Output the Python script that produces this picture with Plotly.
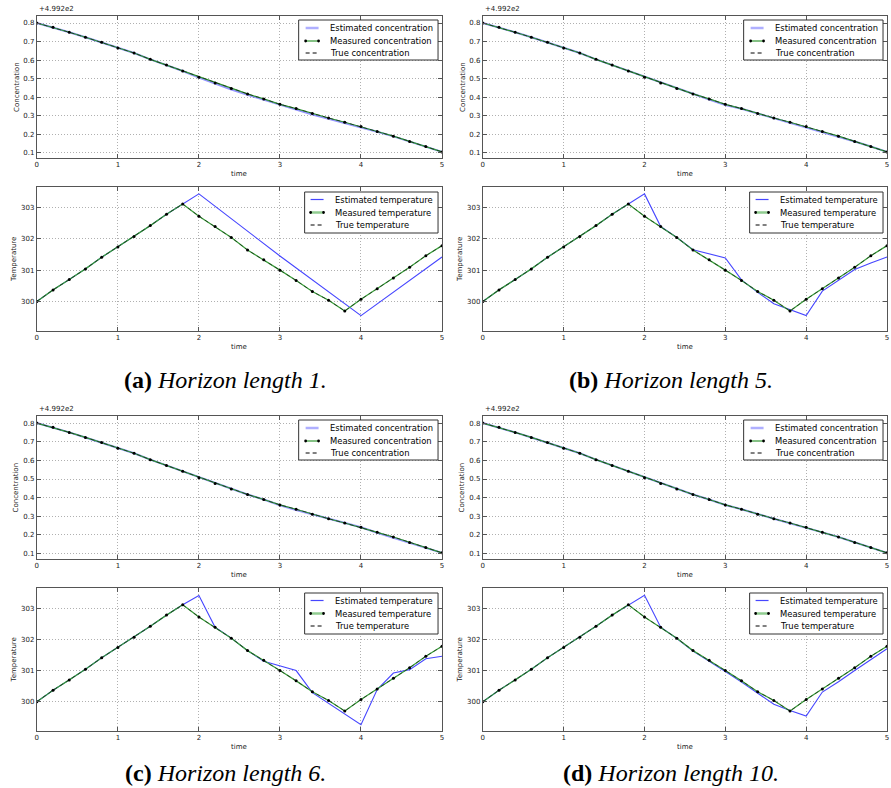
import plotly.graph_objects as go

W, H = 891, 788

# ---------------- data ----------------
time = [0.0, 0.2, 0.4, 0.6, 0.8, 1.0, 1.2, 1.4, 1.6, 1.8, 2.0, 2.2, 2.4,
        2.6, 2.8, 3.0, 3.2, 3.4, 3.6, 3.8, 4.0, 4.2, 4.4, 4.6, 4.8, 5.0]

conc_measured = [500.000, 499.977, 499.950, 499.923, 499.896, 499.865, 499.838,
                 499.804, 499.773, 499.741, 499.707, 499.676, 499.646, 499.617,
                 499.590, 499.561, 499.538, 499.511, 499.487, 499.464, 499.441,
                 499.414, 499.389, 499.360, 499.333, 499.304]
conc_true = [500.000, 499.977, 499.950, 499.923, 499.896, 499.865, 499.838,
             499.804, 499.773, 499.741, 499.707, 499.676, 499.646, 499.617,
             499.590, 499.561, 499.538, 499.511, 499.487, 499.464, 499.441,
             499.414, 499.389, 499.360, 499.333, 499.304]
conc_est_a = [500.000, 499.977, 499.950, 499.923, 499.896, 499.865, 499.838,
              499.804, 499.773, 499.741, 499.705, 499.671, 499.641, 499.612,
              499.585, 499.556, 499.532, 499.506, 499.483, 499.460, 499.439,
              499.413, 499.388, 499.359, 499.333, 499.304]
conc_est_b = [500.000, 499.977, 499.950, 499.923, 499.896, 499.865, 499.838,
              499.804, 499.773, 499.741, 499.707, 499.676, 499.646, 499.616,
              499.587, 499.557, 499.537, 499.511, 499.486, 499.461, 499.438,
              499.414, 499.389, 499.360, 499.333, 499.304]
conc_est_c = [500.000, 499.977, 499.950, 499.923, 499.896, 499.865, 499.838,
              499.804, 499.773, 499.741, 499.707, 499.676, 499.646, 499.617,
              499.590, 499.559, 499.534, 499.510, 499.487, 499.464, 499.441,
              499.412, 499.385, 499.359, 499.333, 499.304]
conc_est_d = [500.000, 499.977, 499.950, 499.923, 499.896, 499.865, 499.838,
              499.804, 499.773, 499.741, 499.707, 499.676, 499.646, 499.617,
              499.590, 499.561, 499.538, 499.511, 499.487, 499.463, 499.440,
              499.414, 499.389, 499.360, 499.333, 499.304]

temp_measured = [300.00, 300.37, 300.70, 301.04, 301.41, 301.74, 302.07, 302.42,
                 302.78, 303.11, 302.72, 302.39, 302.04, 301.64, 301.33, 301.00,
                 300.67, 300.32, 300.04, 299.70, 300.07, 300.41, 300.75, 301.09,
                 301.46, 301.78]
temp_true = [300.00, 300.37, 300.70, 301.04, 301.41, 301.74, 302.07, 302.42,
             302.78, 303.11, 302.72, 302.39, 302.04, 301.64, 301.33, 301.00,
             300.67, 300.32, 300.04, 299.70, 300.07, 300.41, 300.75, 301.09,
             301.46, 301.78]

temp_est_time_a = [0.0, 0.2, 0.4, 0.6, 0.8, 1.0, 1.2, 1.4, 1.6, 1.8, 2.0, 3.0, 4.0, 5.0]
temp_est_a = [300.00, 300.37, 300.70, 301.04, 301.41, 301.74, 302.07, 302.42,
              302.78, 303.11, 303.43, 301.45, 299.55, 301.42]
temp_est_time_b = [0.0, 0.2, 0.4, 0.6, 0.8, 1.0, 1.2, 1.4, 1.6, 1.8, 2.0, 2.2, 2.4,
                   2.6, 3.0, 3.2, 3.4, 3.6, 3.8, 4.0, 4.2, 4.4, 4.6, 4.8, 5.0]
temp_est_b = [300.00, 300.37, 300.70, 301.04, 301.41, 301.74, 302.07, 302.42,
              302.78, 303.11, 303.43, 302.39, 302.04, 301.65, 301.39, 300.69,
              300.29, 299.93, 299.75, 299.55, 300.33, 300.68, 301.02, 301.23, 301.42]
temp_est_time_c = [0.0, 0.2, 0.4, 0.6, 0.8, 1.0, 1.2, 1.4, 1.6, 1.8, 2.0, 2.2, 2.4,
                   2.6, 2.8, 3.2, 3.4, 4.0, 4.2, 4.4, 4.6, 4.8, 5.0]
temp_est_c = [300.00, 300.37, 300.70, 301.04, 301.41, 301.74, 302.07, 302.42,
              302.78, 303.11, 303.41, 302.39, 302.04, 301.64, 301.30, 301.00,
              300.29, 299.26, 300.39, 300.92, 301.03, 301.38, 301.46]
temp_est_time_d = [0.0, 0.2, 0.4, 0.6, 0.8, 1.0, 1.2, 1.4, 1.6, 1.8, 2.0, 2.2, 2.4,
                   2.6, 2.8, 3.0, 3.2, 3.4, 3.6, 3.8, 4.0, 4.2, 4.4, 4.6, 4.8, 5.0]
temp_est_d = [300.00, 300.37, 300.70, 301.04, 301.41, 301.74, 302.07, 302.42,
              302.78, 303.11, 303.42, 302.39, 302.03, 301.63, 301.31, 300.97,
              300.63, 300.28, 299.92, 299.72, 299.54, 300.31, 300.64, 301.00,
              301.35, 301.70]

panel_letters = ["a", "b", "c", "d"]
horizon_lengths = [1, 5, 6, 10]
conc_est = [conc_est_a, conc_est_b, conc_est_c, conc_est_d]
temp_est_times = [temp_est_time_a, temp_est_time_b, temp_est_time_c, temp_est_time_d]
temp_est = [temp_est_a, temp_est_b, temp_est_c, temp_est_d]

x_ticks = [0, 1, 2, 3, 4, 5]
conc_tickvals = [499.3, 499.4, 499.5, 499.6, 499.7, 499.8, 499.9, 500.0]
conc_ticktext = ["0.1", "0.2", "0.3", "0.4", "0.5", "0.6", "0.7", "0.8"]
conc_offset_label = "+4.992e2"
temp_tickvals = [300, 301, 302, 303]
temp_ticktext = ["300", "301", "302", "303"]

conc_labels = ["Estimated concentration", "Measured concentration", "True concentration"]
temp_labels = ["Estimated temperature", "Measured temperature", "True temperature"]

# ---------------- layout geometry (pixels) ----------------
cols = [(35, 442), (483, 889)]
rows_top = [(16, 158), (187, 331)]
rows_bot = [(416, 559), (588, 731)]
panel_geo = [(cols[0], rows_top), (cols[1], rows_top), (cols[0], rows_bot), (cols[1], rows_bot)]
caption_pos = [(225, 380), (672, 380), (225, 773), (672, 773)]

BLUE = "rgb(70,70,255)"
GREEN = "rgb(50,150,50)"
FONT = "DejaVu Sans"
AXC = "#555555"
TXT = "#222222"


def px(x):
    return x / W


def py(y):
    return 1 - y / H


fig = go.Figure()
shapes = []
annotations = []
layout_axes = {}


def add_legend(x1, y0, kind):
    if kind == "conc":
        box = (x1 - 144, y0 + 4, x1 - 4, y0 + 44)
        sx = (x1 - 137, x1 - 124)
        tx = x1 - 115
        ys = [y0 + 12, y0 + 25, y0 + 37]
        labels = conc_labels
        est_style = dict(color="rgba(110,110,255,0.55)", width=2.5)
        meas_style = dict(color=GREEN, width=1.2)
    else:
        box = (x1 - 138, y0 + 5, x1 - 4, y0 + 46)
        sx = (x1 - 132, x1 - 119)
        tx = x1 - 110
        ys = [y0 + 12.5, y0 + 25.5, y0 + 38]
        labels = temp_labels
        est_style = dict(color=BLUE, width=1.2)
        meas_style = dict(color="rgba(70,170,70,0.6)", width=2.5)
    shapes.append(dict(type="rect", xref="paper", yref="paper",
                       x0=px(box[0]), x1=px(box[2]), y0=py(box[3]), y1=py(box[1]),
                       fillcolor="white", line=dict(color="#333333", width=1), layer="above"))
    shapes.append(dict(type="line", xref="paper", yref="paper",
                       x0=px(sx[0]), x1=px(sx[1]), y0=py(ys[0]), y1=py(ys[0]),
                       line=est_style, layer="above"))
    shapes.append(dict(type="line", xref="paper", yref="paper",
                       x0=px(sx[0]), x1=px(sx[1]), y0=py(ys[1]), y1=py(ys[1]),
                       line=meas_style, layer="above"))
    for xx in sx:
        shapes.append(dict(type="circle", xref="paper", yref="paper",
                           x0=px(xx - 1.4), x1=px(xx + 1.4), y0=py(ys[1] + 1.4), y1=py(ys[1] - 1.4),
                           fillcolor="black", line=dict(color="black", width=0), layer="above"))
    shapes.append(dict(type="line", xref="paper", yref="paper",
                       x0=px(sx[0]), x1=px(sx[1]), y0=py(ys[2]), y1=py(ys[2]),
                       line=dict(color="black", width=1, dash="4px,3px"), layer="above"))
    for lab, yy in zip(labels, ys):
        annotations.append(dict(text=lab, xref="paper", yref="paper", x=px(tx), y=py(yy),
                                xanchor="left", yanchor="middle", showarrow=False,
                                font=dict(family=FONT, size=8.4, color="black")))


for k in range(4):
    (cx0, cx1), rows = panel_geo[k]
    for j, kind in enumerate(["conc", "temp"]):
        n = 2 * k + j + 1
        ry0, ry1 = rows[j]
        xa = f"x{n}" if n > 1 else "x"
        ya = f"y{n}" if n > 1 else "y"
        xkey = f"xaxis{n}" if n > 1 else "xaxis"
        ykey = f"yaxis{n}" if n > 1 else "yaxis"
        common = dict(showline=True, linecolor=AXC, linewidth=1, mirror="ticks",
                      ticks="inside", ticklen=4, tickcolor=AXC, tickwidth=1,
                      showgrid=True, gridcolor="#b0b0b0", griddash="1px,2px", gridwidth=1,
                      zeroline=False, tickfont=dict(family=FONT, size=7, color=TXT))
        layout_axes[xkey] = dict(domain=[px(cx0), px(cx1)], anchor=ya, range=[0, 5],
                                 tickmode="array", tickvals=x_ticks,
                                 ticktext=[str(v) for v in x_ticks], **common)
        if kind == "conc":
            layout_axes[ykey] = dict(domain=[py(ry1), py(ry0)], anchor=xa,
                                     range=[499.271, 500.038], tickmode="array",
                                     tickvals=conc_tickvals, ticktext=conc_ticktext, **common)
            fig.add_trace(go.Scatter(x=time, y=conc_est[k], mode="lines", xaxis=xa, yaxis=ya,
                                     line=dict(color="rgba(60,60,255,0.55)", width=2),
                                     name=conc_labels[0], showlegend=False))
            fig.add_trace(go.Scatter(x=time, y=conc_measured, mode="lines+markers", xaxis=xa, yaxis=ya,
                                     line=dict(color=GREEN, width=1.2),
                                     marker=dict(color="black", size=3),
                                     name=conc_labels[1], showlegend=False))
            fig.add_trace(go.Scatter(x=time, y=conc_true, mode="lines", xaxis=xa, yaxis=ya,
                                     line=dict(color="rgba(0,0,0,0.75)", width=0.7, dash="4px,3px"),
                                     name=conc_labels[2], showlegend=False))
            annotations.append(dict(text=conc_offset_label, xref="paper", yref="paper",
                                    x=px(cx0), y=py(ry0 - 1), xanchor="left", yanchor="bottom",
                                    showarrow=False, font=dict(family=FONT, size=7, color=TXT)))
            annotations.append(dict(text="Concentration", xref="paper", yref="paper",
                                    x=px(cx0 - 20), y=py((ry0 + ry1) / 2), textangle=-90,
                                    xanchor="center", yanchor="middle", showarrow=False,
                                    font=dict(family=FONT, size=7, color=TXT)))
        else:
            layout_axes[ykey] = dict(domain=[py(ry1), py(ry0)], anchor=xa,
                                     range=[299.06, 303.65], tickmode="array",
                                     tickvals=temp_tickvals, ticktext=temp_ticktext, **common)
            fig.add_trace(go.Scatter(x=temp_est_times[k], y=temp_est[k], mode="lines", xaxis=xa, yaxis=ya,
                                     line=dict(color=BLUE, width=1.1),
                                     name=temp_labels[0], showlegend=False))
            fig.add_trace(go.Scatter(x=time, y=temp_measured, mode="lines+markers", xaxis=xa, yaxis=ya,
                                     line=dict(color="rgb(60,160,60)", width=1.3),
                                     marker=dict(color="black", size=3),
                                     name=temp_labels[1], showlegend=False))
            fig.add_trace(go.Scatter(x=time, y=temp_true, mode="lines", xaxis=xa, yaxis=ya,
                                     line=dict(color="rgba(0,0,0,0.75)", width=0.7, dash="4px,3px"),
                                     name=temp_labels[2], showlegend=False))
            annotations.append(dict(text="Temperature", xref="paper", yref="paper",
                                    x=px(cx0 - 23), y=py((ry0 + ry1) / 2), textangle=-90,
                                    xanchor="center", yanchor="middle", showarrow=False,
                                    font=dict(family=FONT, size=7, color=TXT)))
        annotations.append(dict(text="time", xref="paper", yref="paper",
                                x=px((cx0 + cx1) / 2), y=py(ry1 + 16), xanchor="center",
                                yanchor="middle", showarrow=False,
                                font=dict(family=FONT, size=7, color=TXT)))
        add_legend(cx1, ry0, kind)

    cxp, cyp = caption_pos[k]
    annotations.append(dict(
        text=f"<b>({panel_letters[k]})</b> <i>Horizon length {horizon_lengths[k]}.</i>",
        xref="paper", yref="paper", x=px(cxp), y=py(cyp), xanchor="center", yanchor="middle",
        showarrow=False, font=dict(family="Liberation Serif", size=24, color="black")))

fig.update_layout(width=W, height=H, margin=dict(l=0, r=0, t=0, b=0),
                  paper_bgcolor="white", plot_bgcolor="white", showlegend=False,
                  shapes=shapes, annotations=annotations, **layout_axes)

fig.write_html("out.html", config={"displayModeBar": False})
